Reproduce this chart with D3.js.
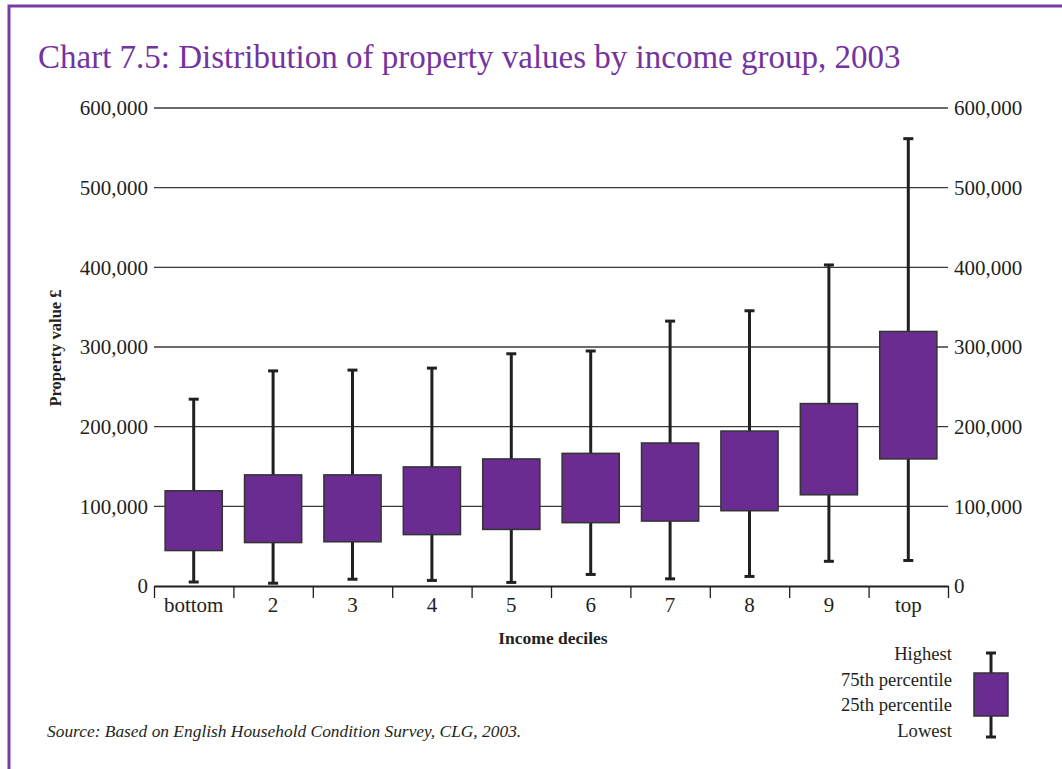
<!DOCTYPE html>
<html>
<head>
<meta charset="utf-8">
<script src="https://cdn.jsdelivr.net/npm/d3@7"></script>
<style>
  body { margin: 0; background: #fff; }
  svg { display: block; font-family: "Liberation Serif", "DejaVu Serif", serif; }
</style>
</head>
<body>
<svg id="chart" width="1062" height="769"></svg>
<script>
// income deciles
const categories = ['bottom', '2', '3', '4', '5', '6', '7', '8', '9', 'top'];

// property values (GBP)
const lowest  = [5000, 3500, 8500, 7000, 4500, 14500, 9000, 12000, 31000, 32000];
const p25     = [44500, 54500, 55500, 64500, 71000, 79500, 81500, 94500, 114500, 159500];
const p75     = [119500, 139500, 139500, 149500, 159500, 166500, 179500, 194500, 229000, 319500];
const highest = [234500, 270000, 271000, 273500, 291500, 295000, 332500, 345500, 403000, 561500];

const yTicks = [0, 100000, 200000, 300000, 400000, 500000, 600000];
const legendLabels = ['Highest', '75th percentile', '25th percentile', 'Lowest'];

const purple = '#6a2c91';
const titlePurple = '#7333a1';
const ink = '#231f20';

const svg = d3.select('#chart');

const rows = categories.map((c, i) => ({
  cat: c, lo: lowest[i], q1: p25[i], q3: p75[i], hi: highest[i]
}));

const plotLeft = 154, plotRight = 948, plotTop = 108, plotBottom = 586;

const x = d3.scaleBand().domain(categories).range([plotLeft, plotRight])
  .paddingInner(0.28).paddingOuter(0.14);
const y = d3.scaleLinear().domain([0, 600000]).range([plotBottom, plotTop]);
const xEdges = d3.scaleLinear().domain([0, categories.length]).range([plotLeft, plotRight]);

// frame
svg.append('path')
  .attr('d', `M9,769 V6 H1062`)
  .attr('fill', 'none')
  .attr('stroke', '#7a3aa8')
  .attr('stroke-width', 3);

// title
svg.append('text')
  .attr('x', 38).attr('y', 68)
  .attr('fill', titlePurple)
  .style('font-size', '33px')
  .text('Chart 7.5: Distribution of property values by income group, 2003');

// gridlines + left/right labels
const fmt = d3.format(',');
const leftAxis = svg.append('g')
  .attr('transform', `translate(${plotLeft},0)`)
  .call(d3.axisLeft(y).tickValues(yTicks).tickFormat(fmt).tickSize(0).tickPadding(6));
leftAxis.select('.domain').remove();
leftAxis.selectAll('text').style('font-size', '21px').attr('fill', ink);
leftAxis.attr('font-family', null);

const rightAxis = svg.append('g')
  .attr('transform', `translate(${plotRight},0)`)
  .call(d3.axisRight(y).tickValues(yTicks).tickFormat(fmt).tickSize(0).tickPadding(6));
rightAxis.select('.domain').remove();
rightAxis.selectAll('text').style('font-size', '21px').attr('fill', ink);
rightAxis.attr('font-family', null);

svg.append('g')
  .selectAll('line')
  .data(yTicks.filter(d => d > 0))
  .join('line')
  .attr('x1', plotLeft).attr('x2', plotRight)
  .attr('y1', d => y(d)).attr('y2', d => y(d))
  .attr('stroke', '#3a3a3a')
  .attr('stroke-width', 1.3);

// x axis: boundary ticks
const edgeAxis = svg.append('g')
  .attr('transform', `translate(0,${plotBottom})`)
  .call(d3.axisBottom(xEdges).tickValues(d3.range(categories.length + 1))
    .tickFormat('').tickSizeInner(12).tickSizeOuter(0));
edgeAxis.select('.domain').attr('stroke', ink).attr('stroke-width', 2.2);
edgeAxis.selectAll('.tick line').attr('stroke', ink).attr('stroke-width', 1.3);

const catAxis = svg.append('g')
  .attr('transform', `translate(0,${plotBottom})`)
  .call(d3.axisBottom(x).tickSize(0).tickPadding(11));
catAxis.select('.domain').remove();
catAxis.selectAll('text').style('font-size', '21px').attr('fill', ink);
catAxis.attr('font-family', null);

// boxes
const boxes = svg.append('g').selectAll('g').data(rows).join('g');
const cx = d => x(d.cat) + x.bandwidth() / 2;
const capW = 10;

boxes.append('line')
  .attr('x1', cx).attr('x2', cx)
  .attr('y1', d => y(d.hi)).attr('y2', d => y(d.lo))
  .attr('stroke', ink).attr('stroke-width', 3);
boxes.append('line')
  .attr('x1', d => cx(d) - capW / 2).attr('x2', d => cx(d) + capW / 2)
  .attr('y1', d => y(d.hi)).attr('y2', d => y(d.hi))
  .attr('stroke', ink).attr('stroke-width', 3);
boxes.append('line')
  .attr('x1', d => cx(d) - capW / 2).attr('x2', d => cx(d) + capW / 2)
  .attr('y1', d => y(d.lo)).attr('y2', d => y(d.lo))
  .attr('stroke', ink).attr('stroke-width', 3);
boxes.append('rect')
  .attr('x', d => x(d.cat))
  .attr('width', x.bandwidth())
  .attr('y', d => y(d.q3))
  .attr('height', d => y(d.q1) - y(d.q3))
  .attr('fill', purple)
  .attr('stroke', '#333')
  .attr('stroke-width', 1.5);

// axis titles
svg.append('text')
  .attr('transform', 'translate(61,348) rotate(-90)')
  .attr('text-anchor', 'middle')
  .attr('fill', ink)
  .style('font-size', '16.5px').style('font-weight', 'bold')
  .text('Property value £');

svg.append('text')
  .attr('x', 553).attr('y', 644)
  .attr('text-anchor', 'middle')
  .attr('fill', ink)
  .style('font-size', '17.5px').style('font-weight', 'bold')
  .text('Income deciles');

// source
svg.append('text')
  .attr('x', 47).attr('y', 737)
  .attr('fill', ink)
  .style('font-size', '17.4px').style('font-style', 'italic')
  .text('Source: Based on English Household Condition Survey, CLG, 2003.');

// legend
const ly = d3.scalePoint().domain(legendLabels).range([660, 737]);
svg.append('g').selectAll('text').data(legendLabels).join('text')
  .attr('x', 952).attr('y', d => ly(d))
  .attr('text-anchor', 'end')
  .attr('fill', ink)
  .style('font-size', '18.6px')
  .text(d => d);

const lg = svg.append('g');
const lx = 991;
lg.append('line').attr('x1', lx).attr('x2', lx).attr('y1', 653).attr('y2', 737)
  .attr('stroke', ink).attr('stroke-width', 3);
[653, 737].forEach(v => lg.append('line')
  .attr('x1', lx - capW / 2).attr('x2', lx + capW / 2).attr('y1', v).attr('y2', v)
  .attr('stroke', ink).attr('stroke-width', 3));
lg.append('rect').attr('x', 974).attr('y', 673).attr('width', 34).attr('height', 43)
  .attr('fill', purple).attr('stroke', '#333').attr('stroke-width', 1.5);
</script>
</body>
</html>
